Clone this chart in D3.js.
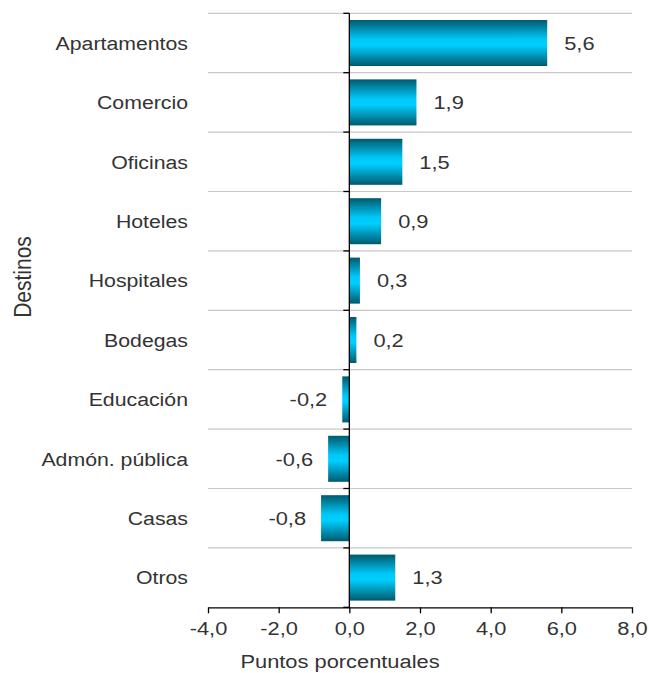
<!DOCTYPE html>
<html><head><meta charset="utf-8">
<script src="https://cdn.jsdelivr.net/npm/d3@7"></script>
<style>html,body{margin:0;padding:0;background:#fff;}</style>
</head><body>
<script>
const categories = ["Apartamentos","Comercio","Oficinas","Hoteles","Hospitales","Bodegas","Educación","Admón. pública","Casas","Otros"];
const values = [5.6, 1.9, 1.5, 0.9, 0.3, 0.2, -0.2, -0.6, -0.8, 1.3];
const xTicks = [-4, -2, 0, 2, 4, 6, 8];
const xTitle = "Puntos porcentuales";
const yTitle = "Destinos";

(function () {
const W = 649, H = 673;
const pLeft = 208, pRight = 632, pTop = 13.3, pBottom = 607.3;
const SX = 1.15, SXC = 1.12, FS = 19, TXT = "#333";
const FONT = "'Liberation Sans', Arial, sans-serif";

const svg = d3.select("body").append("svg").attr("width", W).attr("height", H)
  .style("font-family", FONT);

const defs = svg.append("defs");
const grad = defs.append("linearGradient").attr("id","barg").attr("x1",0).attr("y1",0).attr("x2",0).attr("y2",1);
[[0,"#005a6e"],[0.42,"#00c8f8"],[0.55,"#00cfff"],[1,"#005a6e"]].forEach(([o,c]) =>
  grad.append("stop").attr("offset", o).attr("stop-color", c));

const x = d3.scaleLinear().domain([-4, 8]).range([pLeft, pRight]);
const y = d3.scaleBand().domain(categories).range([pTop, pBottom]).paddingInner(0.225).paddingOuter(0.1125);
const bounds = d3.range(categories.length + 1).map(i => pTop + i * (pBottom - pTop) / categories.length);

// gridlines
svg.append("g").selectAll("line").data(bounds.slice(0, -1)).join("line")
  .attr("x1", pLeft).attr("x2", pRight).attr("y1", d => d).attr("y2", d => d)
  .attr("stroke", "#c8c8c8").attr("stroke-width", 1.2);

// bars
svg.append("g").selectAll("rect").data(categories).join("rect")
  .attr("x", (c, i) => x(Math.min(0, values[i])))
  .attr("width", (c, i) => Math.abs(x(values[i]) - x(0)))
  .attr("y", c => y(c)).attr("height", y.bandwidth())
  .attr("fill", "url(#barg)");

// zero line with left ticks
svg.append("line").attr("x1", x(0)).attr("x2", x(0)).attr("y1", pTop).attr("y2", pBottom)
  .attr("stroke", "#000").attr("stroke-width", 1.3);
svg.append("g").selectAll("line").data(bounds).join("line")
  .attr("x1", x(0) - 6).attr("x2", x(0)).attr("y1", d => d).attr("y2", d => d)
  .attr("stroke", "#000").attr("stroke-width", 1.3);

// x axis
const fmt = d => d3.format(".1f")(d).replace(".", ",").replace("−", "-");
const gx = svg.append("g").attr("transform", `translate(0,${pBottom})`)
  .call(d3.axisBottom(x).tickValues(xTicks).tickSize(6).tickSizeOuter(0).tickFormat(fmt));
gx.select(".domain").attr("stroke", "#000").attr("stroke-width", 1.3);
gx.selectAll(".tick line").attr("stroke", "#000").attr("stroke-width", 1.3);
gx.selectAll(".tick text").remove();
gx.selectAll(".tick").append("text")
  .attr("transform", `translate(0,28) scale(${SX},1)`)
  .attr("text-anchor", "middle").attr("fill", TXT)
  .style("font-size", FS + "px").style("font-family", FONT)
  .text(d => fmt(d));

// category labels
svg.append("g").selectAll("text").data(categories).join("text")
  .attr("transform", c => `translate(188,${y(c) + y.bandwidth() / 2 + 6.8}) scale(${SXC},1)`)
  .attr("text-anchor", "end").attr("fill", TXT).style("font-size", FS + "px")
  .text(c => c);

// value labels
svg.append("g").selectAll("text").data(categories).join("text")
  .attr("transform", (c, i) => {
    const v = values[i];
    const px = v >= 0 ? x(v) + 17 : x(v) - 15;
    return `translate(${px},${y(c) + y.bandwidth() / 2 + 6.8}) scale(${SX},1)`;
  })
  .attr("text-anchor", (c, i) => values[i] >= 0 ? "start" : "end")
  .attr("fill", TXT).style("font-size", FS + "px")
  .text((c, i) => fmt(values[i]));

// titles
svg.append("text").attr("transform", `translate(340,668) scale(${SX},1)`)
  .attr("text-anchor", "middle").attr("fill", TXT).style("font-size", FS + "px").text(xTitle);
svg.append("text").attr("transform", `translate(31,277) scale(${SX},1) rotate(-90)`)
  .attr("text-anchor", "middle").attr("fill", TXT).style("font-size", "21px").text(yTitle);
})();
</script>
</body></html>
